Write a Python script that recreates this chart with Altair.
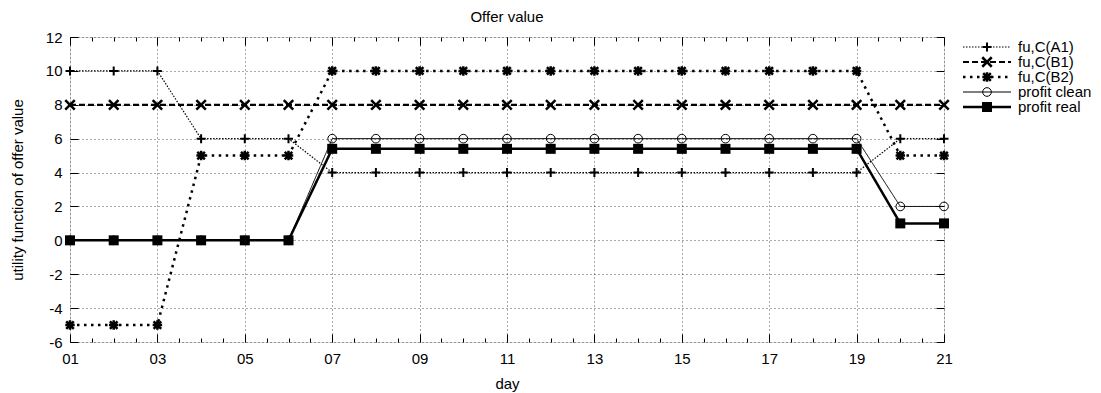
import altair as alt
import pandas as pd

FONT = "Liberation Sans"

days = list(range(1, 22))
series_names = ["fu,C(A1)", "fu,C(B1)", "fu,C(B2)", "profit clean", "profit real"]
a1 = [10, 10, 10, 6, 6, 6, 4, 4, 4, 4, 4, 4, 4, 4, 4, 4, 4, 4, 4, 6, 6]
b1 = [8, 8, 8, 8, 8, 8, 8, 8, 8, 8, 8, 8, 8, 8, 8, 8, 8, 8, 8, 8, 8]
b2 = [-5, -5, -5, 5, 5, 5, 10, 10, 10, 10, 10, 10, 10, 10, 10, 10, 10, 10, 10, 5, 5]
clean = [0, 0, 0, 0, 0, 0, 6, 6, 6, 6, 6, 6, 6, 6, 6, 6, 6, 6, 6, 2, 2]
real = [0, 0, 0, 0, 0, 0, 5.4, 5.4, 5.4, 5.4, 5.4, 5.4, 5.4, 5.4, 5.4, 5.4, 5.4, 5.4, 5.4, 1, 1]
values_by_series = [a1, b1, b2, clean, real]

x_ticks = [1 + 0.5 * i for i in range(41)]
y_ticks = [-6, -4, -2, 0, 2, 4, 6, 8, 10, 12]

rows = []
for name, vals in zip(series_names, values_by_series):
    for d, v in zip(days, vals):
        rows.append({"series": name, "day": d, "value": v})
df = pd.DataFrame(rows)
leg_df = pd.DataFrame({"series": series_names, "idx": list(range(len(series_names)))})

PLUS = "M-1,0L1,0M0,-1L0,1"
XSH = "M-1,-1L1,1M-1,1L1,-1"
STAR = "M-1,0L1,0M0,-1L0,1M-0.8,-0.8L0.8,0.8M-0.8,0.8L0.8,-0.8"
styles = {
    "fu,C(A1)": dict(dash=[1.5, 1.5], width=1.2, shape=PLUS, size=81, filled=False, sw=2),
    "fu,C(B1)": dict(dash=[6, 3], width=2.2, shape=XSH, size=90, filled=False, sw=2.5),
    "fu,C(B2)": dict(dash=[2.5, 4.5], width=2.5, shape=STAR, size=90, filled=False, sw=2.5),
    "profit clean": dict(dash=[1, 0], width=1, shape="circle", size=75, filled=False, sw=1),
    "profit real": dict(dash=[1, 0], width=2.5, shape="square", size=100, filled=True, sw=1),
}

xscale = alt.Scale(domain=[1, 21], nice=False, zero=False)
yscale = alt.Scale(domain=[-6, 12], nice=False, zero=False)
major = "datum.value % 2 == 1"

common = dict(labelFont=FONT, labelFontSize=15, labelColor="black",
              titleFont=FONT, titleFontSize=15, titleFontWeight="normal", titleColor="black",
              tickColor="black", tickWidth=1, domain=False,
              gridColor="#000000", gridDash=[1, 3], gridWidth=0.8)

x_axis_main = alt.Axis(
    orient="bottom", values=x_ticks,
    labelExpr="datum.value % 2 == 1 ? (datum.value < 10 ? '0' + datum.value : '' + datum.value) : ''",
    tickSize={"condition": {"test": major, "expr": "-8"}, "expr": "-4"},
    grid=True, gridOpacity={"condition": {"test": major, "value": 0.85}, "value": 0},
    labelPadding=17, labelFlush=False, labelOverlap=False,
    title="day", titleY=41, titleBaseline="middle", **common)
y_axis_main = alt.Axis(
    orient="left", values=y_ticks, labelExpr="'' + datum.value",
    tickSize={"expr": "-8"}, grid=True, gridOpacity=0.85, labelPadding=16,
    labelOverlap=False, labelFlush=False,
    title="utility function of offer value", titleX=-53, titleY=152.5, titleBaseline="middle",
    **common)
x_axis_top = alt.Axis(
    orient="top", values=x_ticks, labels=False, grid=False,
    tickSize={"condition": {"test": major, "expr": "-8"}, "expr": "-4"},
    title="", **common)
y_axis_right = alt.Axis(
    orient="right", values=y_ticks, labels=False, grid=False,
    tickSize={"expr": "-8"}, title="", **common)

base = alt.Chart(df)
layers = [
    base.mark_point(opacity=0).encode(
        x=alt.X("day:Q", scale=xscale, axis=x_axis_main),
        y=alt.Y("value:Q", scale=yscale, axis=y_axis_main)),
    base.mark_point(opacity=0).encode(
        x=alt.X("day:Q", scale=xscale, axis=x_axis_top),
        y=alt.Y("value:Q", scale=yscale, axis=y_axis_right)),
]

X = alt.X("day:Q", scale=xscale, axis=None)
Y = alt.Y("value:Q", scale=yscale, axis=None)

for name in series_names:
    st = styles[name]
    sub = base.transform_filter(alt.datum.series == name)
    layers.append(sub.mark_line(color="black", strokeDash=st["dash"], strokeWidth=st["width"]).encode(x=X, y=Y))
for name in series_names:
    st = styles[name]
    sub = base.transform_filter(alt.datum.series == name)
    layers.append(sub.mark_point(shape=st["shape"], size=st["size"], filled=st["filled"],
                                 color="black", strokeWidth=st["sw"], opacity=1).encode(x=X, y=Y))

leg = alt.Chart(leg_df).transform_calculate(ly="10 + 15 * datum.idx")
LY = alt.Y("ly:Q", scale=None, axis=None)
for name in series_names:
    st = styles[name]
    sub = leg.transform_filter(alt.datum.series == name)
    layers.append(sub.mark_rule(color="black", strokeDash=st["dash"], strokeWidth=st["width"]).encode(
        x=alt.value(893), x2=alt.value(941), y=LY))
    layers.append(sub.mark_point(shape=st["shape"], size=st["size"], filled=st["filled"],
                                 color="black", strokeWidth=st["sw"], opacity=1).encode(
        x=alt.value(917), y=LY))
layers.append(leg.mark_text(align="left", baseline="middle", font=FONT, fontSize=15, color="black").encode(
    x=alt.value(948), y=LY, text="series:N"))

chart = alt.layer(*layers).resolve_axis(x="independent", y="independent").properties(
    width=874, height=305,
    title=alt.TitleParams("Offer value", font=FONT, fontSize=15, fontWeight="normal", color="black",
                          offset=5, frame="group", anchor="middle"),
    autosize=alt.AutoSizeParams(type="none"),
    padding={"left": 62, "top": 29, "right": 149, "bottom": 52},
).configure_view(stroke="black", strokeWidth=1.5).configure(background="white")

chart.save("out.html", embed_options={"renderer": "svg", "actions": False})
